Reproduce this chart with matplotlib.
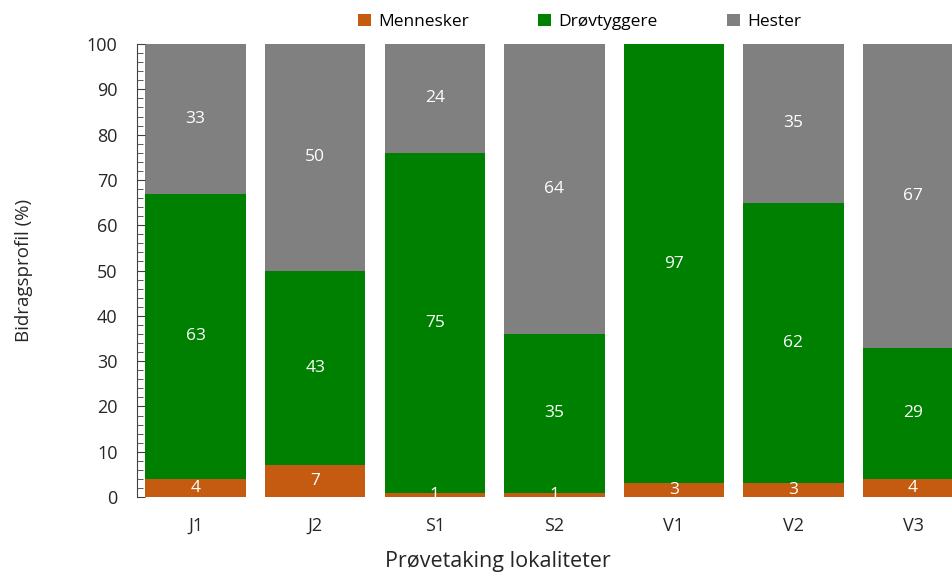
import numpy as np
import matplotlib
matplotlib.use("Agg")
import matplotlib.pyplot as plt
from matplotlib.ticker import MultipleLocator

plt.rcParams['font.family'] = ['Open Sans', 'DejaVu Sans']

sites = ["J1", "J2", "S1", "S2", "V1", "V2", "V3"]
mennesker = [4, 7, 1, 1, 3, 3, 4]
drovtyggere = [63, 43, 75, 35, 97, 62, 29]
hester = [33, 50, 24, 64, 0, 35, 67]

series = [
    ("Mennesker", mennesker, "#C55A11"),
    ("Drøvtyggere", drovtyggere, "#008000"),
    ("Hester", hester, "#808080"),
]

fig = plt.figure(figsize=(9.53, 5.74), dpi=100)
ax = fig.add_axes([0.1438, 0.134, 0.877, 0.7893])

x = np.arange(len(sites))
bottom = np.zeros(len(sites))
handles = []
for name, vals, color in series:
    vals = np.array(vals, dtype=float)
    bars = ax.bar(x, vals, width=0.84, bottom=bottom, color=color, label=name)
    handles.append(bars)
    # white value labels centred in each segment
    for xi, b, v in zip(x, bottom, vals):
        if v > 0:
            ax.text(xi, b + v / 2, f"{v:.0f}", ha="center", va="center",
                    color="white", fontsize=12.5)
    bottom += vals

ax.set_xlim(-0.49, 6.5)
ax.set_ylim(0, 100)
ax.yaxis.set_major_locator(MultipleLocator(10))
ax.yaxis.set_minor_locator(MultipleLocator(2))
ax.tick_params(axis="y", which="major", direction="in", length=6,
               labelsize=13, labelcolor="#262626", color="#404040", pad=14)
ax.tick_params(axis="y", which="minor", direction="in", length=4, color="#404040")
ax.set_xticks(x)
ax.set_xticklabels(sites)
ax.tick_params(axis="x", length=0, labelsize=13, labelcolor="#262626", pad=14)

for side in ["top", "right", "bottom"]:
    ax.spines[side].set_visible(False)
ax.spines["left"].set_color("#404040")

ax.set_ylabel("Bidragsprofil (%)", fontsize=13.5, color="#262626")
ax.yaxis.set_label_coords(-0.125, 0.5)
fig.text(498 / 953, 1 - 561 / 574, "Prøvetaking lokaliteter", fontsize=15.5,
         color="#262626", ha="center", va="center")

fig.legend(handles=handles, loc="center", bbox_to_anchor=(0.608, 0.962),
           ncol=3, frameon=False, fontsize=12.5, handlelength=0.75,
           handleheight=0.75, columnspacing=4.0, handletextpad=0.4)

fig.savefig("out.png", dpi=100)
